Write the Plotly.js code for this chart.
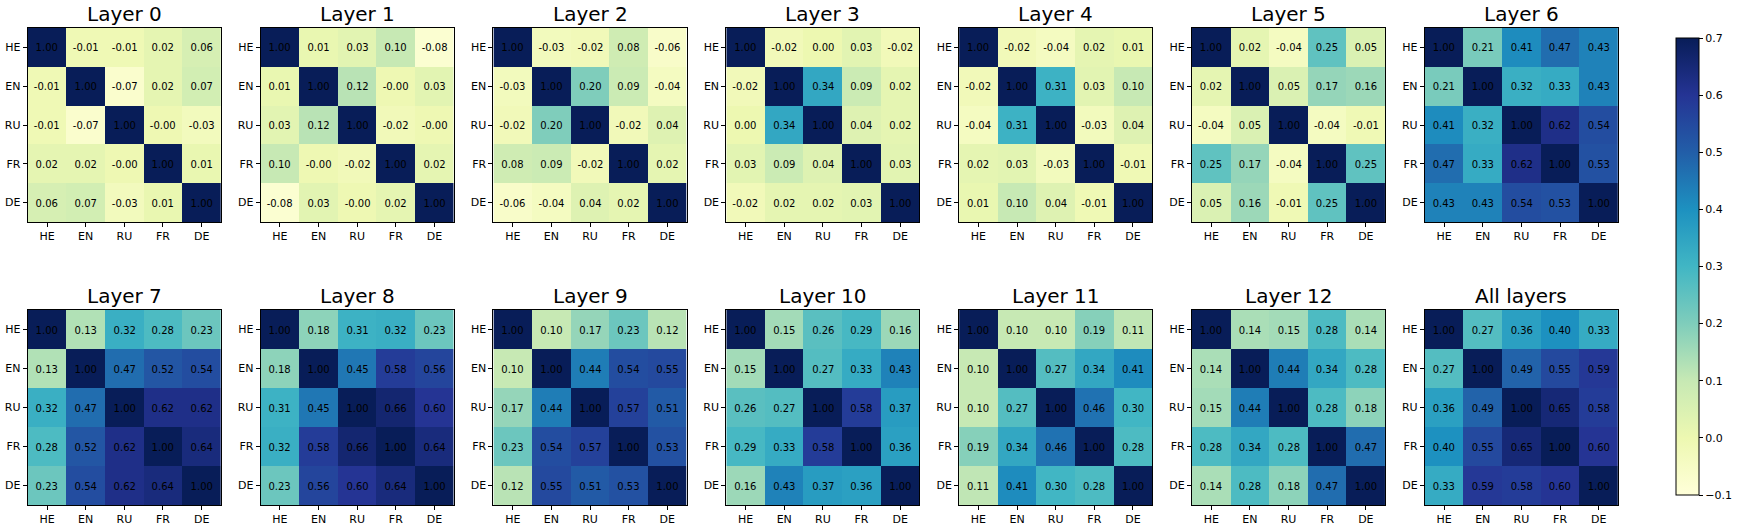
<!DOCTYPE html>
<html>
<head>
<meta charset="utf-8">
<script src="https://cdn.plot.ly/plotly-3.0.1.min.js"></script>
<style>
  html, body { margin: 0; padding: 0; background: #fff; }
  #wykres { width: 1742px; height: 529px; }
</style>
</head>
<body>
<div id="wykres"></div>
<script>
// --- 1. DANE ---
const jezyki = ["HE", "EN", "RU", "FR", "DE"];
const tytuly = ["Layer 0", "Layer 1", "Layer 2", "Layer 3", "Layer 4", "Layer 5", "Layer 6",
                "Layer 7", "Layer 8", "Layer 9", "Layer 10", "Layer 11", "Layer 12", "All layers"];

// "-0.00" w obrazku -> mala ujemna wartosc
const layer0 = [
    [1.00, -0.01, -0.01, 0.02, 0.06],
    [-0.01, 1.00, -0.07, 0.02, 0.07],
    [-0.01, -0.07, 1.00, -0.004, -0.03],
    [0.02, 0.02, -0.004, 1.00, 0.01],
    [0.06, 0.07, -0.03, 0.01, 1.00]
];
const layer1 = [
    [1.00, 0.01, 0.03, 0.10, -0.08],
    [0.01, 1.00, 0.12, -0.004, 0.03],
    [0.03, 0.12, 1.00, -0.02, -0.004],
    [0.10, -0.004, -0.02, 1.00, 0.02],
    [-0.08, 0.03, -0.004, 0.02, 1.00]
];
const layer2 = [
    [1.00, -0.03, -0.02, 0.08, -0.06],
    [-0.03, 1.00, 0.20, 0.09, -0.04],
    [-0.02, 0.20, 1.00, -0.02, 0.04],
    [0.08, 0.09, -0.02, 1.00, 0.02],
    [-0.06, -0.04, 0.04, 0.02, 1.00]
];
const layer3 = [
    [1.00, -0.02, 0.00, 0.03, -0.02],
    [-0.02, 1.00, 0.34, 0.09, 0.02],
    [0.00, 0.34, 1.00, 0.04, 0.02],
    [0.03, 0.09, 0.04, 1.00, 0.03],
    [-0.02, 0.02, 0.02, 0.03, 1.00]
];
const layer4 = [
    [1.00, -0.02, -0.04, 0.02, 0.01],
    [-0.02, 1.00, 0.31, 0.03, 0.10],
    [-0.04, 0.31, 1.00, -0.03, 0.04],
    [0.02, 0.03, -0.03, 1.00, -0.01],
    [0.01, 0.10, 0.04, -0.01, 1.00]
];
const layer5 = [
    [1.00, 0.02, -0.04, 0.25, 0.05],
    [0.02, 1.00, 0.05, 0.17, 0.16],
    [-0.04, 0.05, 1.00, -0.04, -0.01],
    [0.25, 0.17, -0.04, 1.00, 0.25],
    [0.05, 0.16, -0.01, 0.25, 1.00]
];
const layer6 = [
    [1.00, 0.21, 0.41, 0.47, 0.43],
    [0.21, 1.00, 0.32, 0.33, 0.43],
    [0.41, 0.32, 1.00, 0.62, 0.54],
    [0.47, 0.33, 0.62, 1.00, 0.53],
    [0.43, 0.43, 0.54, 0.53, 1.00]
];
const layer7 = [
    [1.00, 0.13, 0.32, 0.28, 0.23],
    [0.13, 1.00, 0.47, 0.52, 0.54],
    [0.32, 0.47, 1.00, 0.62, 0.62],
    [0.28, 0.52, 0.62, 1.00, 0.64],
    [0.23, 0.54, 0.62, 0.64, 1.00]
];
const layer8 = [
    [1.00, 0.18, 0.31, 0.32, 0.23],
    [0.18, 1.00, 0.45, 0.58, 0.56],
    [0.31, 0.45, 1.00, 0.66, 0.60],
    [0.32, 0.58, 0.66, 1.00, 0.64],
    [0.23, 0.56, 0.60, 0.64, 1.00]
];
const layer9 = [
    [1.00, 0.10, 0.17, 0.23, 0.12],
    [0.10, 1.00, 0.44, 0.54, 0.55],
    [0.17, 0.44, 1.00, 0.57, 0.51],
    [0.23, 0.54, 0.57, 1.00, 0.53],
    [0.12, 0.55, 0.51, 0.53, 1.00]
];
const layer10 = [
    [1.00, 0.15, 0.26, 0.29, 0.16],
    [0.15, 1.00, 0.27, 0.33, 0.43],
    [0.26, 0.27, 1.00, 0.58, 0.37],
    [0.29, 0.33, 0.58, 1.00, 0.36],
    [0.16, 0.43, 0.37, 0.36, 1.00]
];
const layer11 = [
    [1.00, 0.10, 0.10, 0.19, 0.11],
    [0.10, 1.00, 0.27, 0.34, 0.41],
    [0.10, 0.27, 1.00, 0.46, 0.30],
    [0.19, 0.34, 0.46, 1.00, 0.28],
    [0.11, 0.41, 0.30, 0.28, 1.00]
];
const layer12 = [
    [1.00, 0.14, 0.15, 0.28, 0.14],
    [0.14, 1.00, 0.44, 0.34, 0.28],
    [0.15, 0.44, 1.00, 0.28, 0.18],
    [0.28, 0.34, 0.28, 1.00, 0.47],
    [0.14, 0.28, 0.18, 0.47, 1.00]
];
const allLayers = [
    [1.00, 0.27, 0.36, 0.40, 0.33],
    [0.27, 1.00, 0.49, 0.55, 0.59],
    [0.36, 0.49, 1.00, 0.65, 0.58],
    [0.40, 0.55, 0.65, 1.00, 0.60],
    [0.33, 0.59, 0.58, 0.60, 1.00]
];

const macierze = [layer0, layer1, layer2, layer3, layer4, layer5, layer6,
                  layer7, layer8, layer9, layer10, layer11, layer12, allLayers];

// --- 2. WYGLAD ---
const SZER = 1742, WYS = 529;
const FONT = "DejaVu Sans, sans-serif";
const ylgnbu = [
    [0.000, "#ffffd9"], [0.125, "#edf8b1"], [0.250, "#c7e9b4"],
    [0.375, "#7fcdbb"], [0.500, "#41b6c4"], [0.625, "#1d91c0"],
    [0.750, "#225ea8"], [0.875, "#253494"], [1.000, "#081d58"]
];
const lewe = [28, 263, 498, 733, 968, 1203, 1438];  // lewa krawedz panelu (px)
const BOK = 195;
const wiersze = [[28, 222], [310, 505]];              // gora/dol wiersza (px)

// --- 3. BUDOWA WYKRESU ---
const dane = [];
const layout = {
    width: SZER, height: WYS,
    margin: { t: 0, b: 0, l: 0, r: 0 },
    paper_bgcolor: "#fff", plot_bgcolor: "#fff",
    font: { family: FONT, size: 10, color: "#000" },
    showlegend: false,
    annotations: []
};

macierze.forEach((z, i) => {
    const kol = i % 7, wiersz = Math.floor(i / 7);
    const n = i === 0 ? "" : String(i + 1);
    const x0 = lewe[kol] / SZER, x1 = (lewe[kol] + BOK) / SZER;
    const y0 = 1 - wiersze[wiersz][1] / WYS, y1 = 1 - wiersze[wiersz][0] / WYS;

    dane.push({
        type: "heatmap",
        x: jezyki, y: jezyki, z: z,
        text: z.map(r => r.map(v => v.toFixed(2))),
        texttemplate: "%{text}",
        textfont: { family: FONT, size: 10, color: "#000" },
        colorscale: ylgnbu, zmin: -0.1, zmax: 0.7,
        showscale: i === 0,
        colorbar: {
            x: 1681 / SZER, xanchor: "left", thickness: 23,
            y: 1 - 266.5 / WYS, yanchor: "middle", len: 477 / WYS, lenmode: "fraction",
            outlinewidth: 1, outlinecolor: "#000",
            tickvals: [-0.1, 0, 0.1, 0.2, 0.3, 0.4, 0.5, 0.6, 0.7],
            ticktext: ["\u22120.1", "0.0", "0.1", "0.2", "0.3", "0.4", "0.5", "0.6", "0.7"],
            ticks: "outside", ticklen: 4, tickcolor: "#000",
            tickfont: { family: FONT, size: 11, color: "#000" }
        },
        xaxis: "x" + n, yaxis: "y" + n,
        hoverinfo: "skip"
    });

    const wspolne = {
        showline: true, mirror: true, linecolor: "#000", linewidth: 1,
        ticks: "outside", ticklen: 4, tickcolor: "#000",
        showgrid: false, zeroline: false, fixedrange: true,
        tickfont: { family: FONT, size: 11, color: "#000" }
    };
    layout["xaxis" + n] = Object.assign({}, wspolne, { domain: [x0, x1], anchor: "y" + n });
    layout["yaxis" + n] = Object.assign({}, wspolne, { domain: [y0, y1], anchor: "x" + n, autorange: "reversed" });

    layout.annotations.push({
        text: tytuly[i], showarrow: false,
        xref: "paper", yref: "paper",
        x: (x0 + x1) / 2, y: y1, xanchor: "center", yanchor: "bottom",
        font: { family: FONT, size: 20, color: "#000" }
    });
});

Plotly.newPlot("wykres", dane, layout, { displayModeBar: false, staticPlot: true });
</script>
</body>
</html>
